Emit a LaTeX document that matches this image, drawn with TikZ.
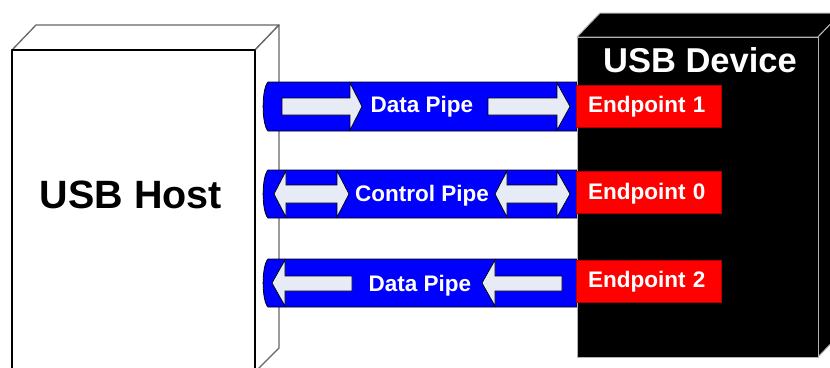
\documentclass[tikz,border=0pt]{standalone}
\usepackage{fontspec}
\setmainfont{Liberation Sans}
\definecolor{pipeblue}{RGB}{0,0,255}
\definecolor{arrowfill}{RGB}{230,235,245}
\definecolor{epred}{RGB}{255,0,0}
\tikzset{
  pipe/.style={fill=pipeblue, draw=black, line width=0.8pt},
  flowarrow/.style={fill=arrowfill, draw=black, line width=0.7pt, line join=miter},
  pipelabel/.style={text=white, font=\bfseries\fontsize{22.5}{26}\selectfont, inner sep=0pt, text height=16pt, text depth=0pt},
  endpoint/.style={fill=epred, draw=red!70!black, line width=0.5pt, minimum height=42pt, text width=121pt, inner xsep=12pt, align=left, text height=16pt, text depth=3pt, text=white, font=\bfseries\fontsize{22.5}{26}\selectfont},
  hostface/.style={fill=white, draw=black, line width=1.3pt, line join=round},
  hostside/.style={fill=white, draw=gray!80!black, line width=1.3pt, line join=round},
  devface/.style={fill=black, draw=gray!60, line width=1pt, line join=round},
}
\begin{document}
\begin{tikzpicture}[x=1pt,y=-1pt]
\useasboundingbox (0,0) rectangle (830,367);
\clip (0,0) rectangle (830,367);
% host box
\draw[hostside] (12,50) -- (36,25) -- (279,25) -- (255,50) -- cycle;
\draw[hostside] (255,50) -- (279,25) -- (279,348) -- (255,372) -- cycle;
\draw[hostface] (12,50) rectangle (255,380);
\node[font=\bfseries\fontsize{39.5}{46}\selectfont, inner sep=0pt, text height=28pt, text depth=0pt] (host) at (131,194) {USB Host};
% pipe 1
\draw[pipe] (268,82) -- (577,82) -- (577,131) -- (268,131) .. controls (261.5,124) and (261.5,89) .. (268,82) -- cycle;
\draw[flowarrow] (282,98) -- (350,98) -- (350,83) -- (362,106.5) -- (350,130) -- (350,115) -- (282,115) -- cycle;
\draw[flowarrow] (488,98) -- (557,98) -- (557,83) -- (570,106.5) -- (557,130) -- (557,115) -- (488,115) -- cycle;
\node[pipelabel] (pipe1) at (422,104.5) {Data Pipe};
% pipe 2
\draw[pipe] (268,170) -- (577,170) -- (577,218) -- (268,218) .. controls (261.5,211) and (261.5,177) .. (268,170) -- cycle;
\draw[flowarrow] (274,194) -- (286,171) -- (286,185) -- (337,185) -- (337,171) -- (349,194) -- (337,217) -- (337,203) -- (286,203) -- (286,217) -- cycle;
\draw[flowarrow] (495,194) -- (507,171) -- (507,185) -- (557,185) -- (557,171) -- (570,194) -- (557,217) -- (557,203) -- (507,203) -- (507,217) -- cycle;
\node[pipelabel] (pipe0) at (422,193) {Control Pipe};
% pipe 3
\draw[pipe] (268,259) -- (577,259) -- (577,307) -- (268,307) .. controls (261.5,300) and (261.5,266) .. (268,259) -- cycle;
\draw[flowarrow] (272,283) -- (285,260) -- (285,276) -- (352,276) -- (352,291) -- (285,291) -- (285,306) -- cycle;
\draw[flowarrow] (482,283) -- (495,260) -- (495,276) -- (562,276) -- (562,291) -- (495,291) -- (495,306) -- cycle;
\node[pipelabel] (pipe2) at (420,283) {Data Pipe};
% device box
\draw[devface] (577,37) -- (600,13) -- (841,13) -- (818,37) -- cycle;
\draw[devface] (818,37) -- (841,13) -- (841,333) -- (818,357) -- cycle;
\draw[devface] (577,37) rectangle (818,357);
\node[text=white, font=\bfseries\fontsize{34.5}{40}\selectfont, inner sep=0pt] (device) at (700,60) {USB Device};
% endpoints
\node[endpoint] (ep1) at (648.5,106) {Endpoint 1};
\node[endpoint] (ep0) at (648.5,192.5) {Endpoint 0};
\node[endpoint] (ep2) at (648.5,281) {Endpoint 2};
\end{tikzpicture}
\end{document}
